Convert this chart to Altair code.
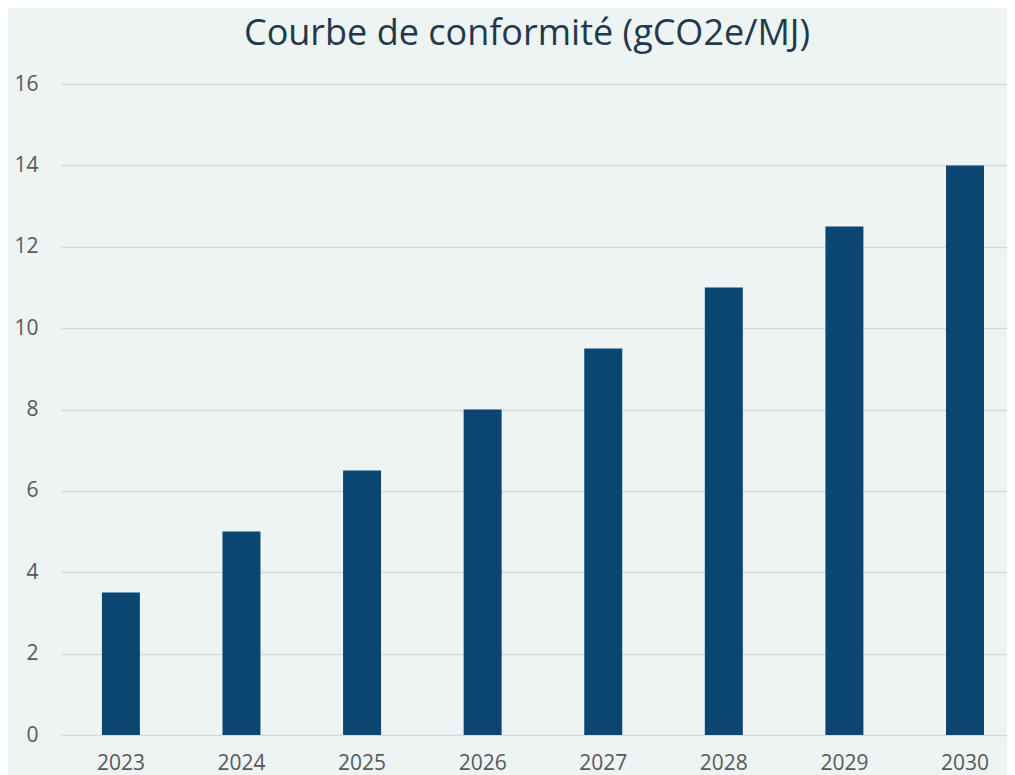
import altair as alt
import pandas as pd

years = ["2023", "2024", "2025", "2026", "2027", "2028", "2029", "2030"]
values = [3.5, 5.0, 6.5, 8.0, 9.5, 11.0, 12.5, 14.0]
y_ticks = [0, 2, 4, 6, 8, 10, 12, 14, 16]
title_text = "Courbe de conformité (gCO2e/MJ)"

df = pd.DataFrame({"year": years, "value": values})

FONT = "Open Sans"
BG = "#EEF4F4"

chart = (
    alt.Chart(df)
    .mark_bar(color="#0B4572")
    .encode(
        x=alt.X(
            "year:N",
            sort=years,
            title=None,
            scale=alt.Scale(paddingInner=0.685, paddingOuter=0.265, align=0.64),
            axis=alt.Axis(
                labelAngle=0,
                labelFontSize=21,
                labelColor="#595959",
                labelFont=FONT,
                labelPadding=17,
                ticks=False,
                tickSize=0,
                domain=False,
                grid=False,
            ),
        ),
        y=alt.Y(
            "value:Q",
            title=None,
            scale=alt.Scale(domain=[0, 16], nice=False),
            axis=alt.Axis(
                values=y_ticks,
                labelFontSize=21,
                labelColor="#595959",
                labelFont=FONT,
                labelPadding=23,
                ticks=False,
                tickSize=0,
                domain=False,
                grid=True,
                gridColor="#D6D9DA",
                gridWidth=1.5,
            ),
        ),
    )
    .properties(
        width=946,
        height=651,
        padding={"left": 53, "top": 76, "right": 0, "bottom": 40},
        autosize=alt.AutoSizeParams(type="none"),
        background=BG,
        title=alt.TitleParams(
            text=title_text,
            font=FONT,
            fontSize=36,
            fontWeight="normal",
            color="#1E3A4C",
            anchor="middle",
            dx=-7,
            offset=20,
        ),
    )
    .configure_view(stroke=None, fill=BG)
)

chart.save("out.html", embed_options={"renderer": "svg", "actions": False})
